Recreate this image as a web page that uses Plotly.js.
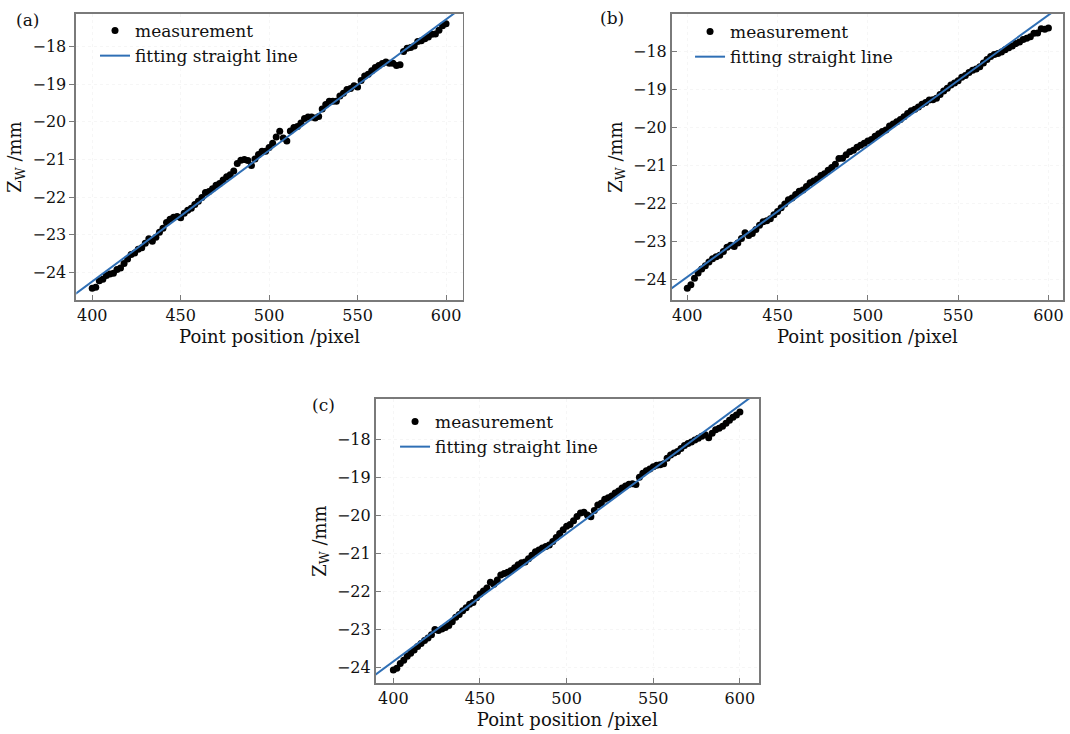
<!DOCTYPE html>
<html><head><meta charset="utf-8">
<script src="https://cdn.plot.ly/plotly-3.0.1.min.js"></script>
<style>html,body{margin:0;padding:0;background:#fff}#chart{width:1070px;height:734px}</style>
</head><body><div id="chart"></div>
<script>
const pointPos = [400,402,404,406,408,410,412,414,416,418,420,422,424,426,428,430,432,434,436,438,440,442,444,446,448,450,452,454,456,458,460,462,464,466,468,470,472,474,476,478,480,482,484,486,488,490,492,494,496,498,500,502,504,506,508,510,512,514,516,518,520,522,524,526,528,530,532,534,536,538,540,542,544,546,548,550,552,554,556,558,560,562,564,566,568,570,572,574,576,578,580,582,584,586,588,590,592,594,596,598,600];

const zA = [-24.43,-24.40,-24.23,-24.19,-24.09,-24.05,-24.03,-23.93,-23.89,-23.77,-23.65,-23.53,-23.49,-23.39,-23.35,-23.23,-23.11,-23.18,-23.07,-22.94,-22.83,-22.68,-22.59,-22.54,-22.52,-22.55,-22.43,-22.35,-22.30,-22.20,-22.11,-22.01,-21.88,-21.85,-21.78,-21.69,-21.64,-21.55,-21.46,-21.41,-21.31,-21.11,-21.02,-21.00,-21.03,-21.16,-20.99,-20.87,-20.78,-20.78,-20.68,-20.57,-20.40,-20.25,-20.43,-20.51,-20.24,-20.15,-20.12,-20.03,-19.91,-19.87,-19.87,-19.90,-19.86,-19.66,-19.54,-19.45,-19.45,-19.45,-19.31,-19.24,-19.14,-19.11,-19.04,-19.07,-18.90,-18.78,-18.73,-18.64,-18.55,-18.50,-18.45,-18.41,-18.44,-18.44,-18.50,-18.48,-18.13,-18.04,-18.02,-17.98,-17.86,-17.84,-17.79,-17.74,-17.67,-17.66,-17.56,-17.44,-17.39];

const zB = [-24.24,-24.15,-23.98,-23.84,-23.73,-23.65,-23.55,-23.46,-23.41,-23.37,-23.27,-23.16,-23.11,-23.14,-23.05,-22.93,-22.78,-22.85,-22.80,-22.69,-22.58,-22.49,-22.46,-22.41,-22.30,-22.22,-22.12,-22.02,-21.91,-21.86,-21.77,-21.68,-21.65,-21.56,-21.46,-21.41,-21.36,-21.27,-21.22,-21.13,-21.06,-20.97,-20.82,-20.81,-20.72,-20.64,-20.60,-20.52,-20.47,-20.42,-20.36,-20.32,-20.23,-20.17,-20.11,-20.07,-19.96,-19.91,-19.85,-19.79,-19.72,-19.63,-19.56,-19.52,-19.46,-19.39,-19.34,-19.28,-19.27,-19.23,-19.13,-19.04,-18.97,-18.88,-18.83,-18.77,-18.68,-18.63,-18.55,-18.49,-18.46,-18.40,-18.30,-18.21,-18.13,-18.08,-18.05,-18.01,-17.95,-17.90,-17.85,-17.79,-17.75,-17.68,-17.65,-17.61,-17.52,-17.51,-17.40,-17.41,-17.38];

const zC = [-24.07,-24.02,-23.90,-23.81,-23.71,-23.63,-23.54,-23.45,-23.37,-23.29,-23.23,-23.14,-23.00,-23.03,-22.99,-22.95,-22.90,-22.80,-22.68,-22.61,-22.51,-22.43,-22.34,-22.29,-22.17,-22.07,-21.99,-21.91,-21.76,-21.81,-21.70,-21.57,-21.53,-21.50,-21.45,-21.38,-21.30,-21.25,-21.23,-21.14,-21.05,-20.96,-20.91,-20.86,-20.82,-20.78,-20.69,-20.58,-20.48,-20.38,-20.29,-20.24,-20.14,-20.03,-19.94,-19.92,-19.99,-20.04,-19.87,-19.73,-19.68,-19.58,-19.54,-19.49,-19.41,-19.36,-19.28,-19.23,-19.18,-19.17,-19.19,-19.00,-18.89,-18.83,-18.78,-18.72,-18.68,-18.67,-18.64,-18.50,-18.41,-18.36,-18.32,-18.24,-18.16,-18.11,-18.07,-18.02,-17.97,-17.92,-17.88,-17.96,-17.84,-17.75,-17.71,-17.66,-17.58,-17.50,-17.42,-17.36,-17.28];

const fitX = [385, 615];
const fitA = [-24.77, -16.75];
const fitB = [-24.46, -16.52];
const fitC = [-24.35, -16.60];

const panelLabels = ['(a)', '(b)', '(c)'];
const seriesNames = ['measurement', 'fitting straight line'];
const xTicks = [400, 450, 500, 550, 600];
const yTicks = [-24, -23, -22, -21, -20, -19, -18];
const xTitle = 'Point position /pixel';
const yTitle = 'Z<sub>W</sub> /mm';

const F = 'DejaVu Serif, Liberation Serif, serif';
const INK = '#111111';
const BORDER = '#7a7a7a';
const BLUE = '#2f6fb5';

function xAxis(domain, range, anchor) {
  return {
    domain: domain, range: range, anchor: anchor,
    tickmode: 'array', tickvals: xTicks,
    ticks: 'inside', ticklen: 5, tickcolor: BORDER, tickwidth: 1,
    showline: true, mirror: true, linecolor: BORDER, linewidth: 1.8,
    showgrid: true, gridcolor: '#f6f6f6', griddash: 'dot', gridwidth: 1,
    zeroline: false, fixedrange: true,
    tickfont: {family: F, size: 16, color: INK},
    title: {text: xTitle, font: {family: F, size: 18, color: INK}, standoff: 6}
  };
}
function yAxis(domain, range, anchor, tickdir) {
  return {
    domain: domain, range: range, anchor: anchor,
    tickmode: 'array', tickvals: yTicks,
    ticks: tickdir, ticklen: 5, tickcolor: BORDER, tickwidth: 1,
    showline: true, mirror: true, linecolor: BORDER, linewidth: 1.8,
    showgrid: true, gridcolor: '#f6f6f6', griddash: 'dot', gridwidth: 1,
    zeroline: false, fixedrange: true,
    tickfont: {family: F, size: 16, color: INK},
    title: {text: yTitle, font: {family: F, size: 18, color: INK}, standoff: 6}
  };
}

function pair(zs, fit, xa, ya, leg) {
  return [
    {x: pointPos, y: zs, xaxis: xa, yaxis: ya, type: 'scatter', mode: 'markers',
     name: seriesNames[0], legend: leg,
     marker: {color: '#000', size: 7}},
    {x: fitX, y: fit, xaxis: xa, yaxis: ya, type: 'scatter', mode: 'lines',
     name: seriesNames[1], legend: leg,
     line: {color: BLUE, width: 2}}
  ];
}

const data = [].concat(
  pair(zA, fitA, 'x', 'y', 'legend'),
  pair(zB, fitB, 'x2', 'y2', 'legend2'),
  pair(zC, fitC, 'x3', 'y3', 'legend3')
);

function leg(x, y) {
  return {x: x, y: y, xanchor: 'left', yanchor: 'top', bgcolor: 'rgba(0,0,0,0)',
          borderwidth: 0, font: {family: F, size: 17, color: INK}, tracegroupgap: 0,
          itemsizing: 'trace'};
}

const layout = {
  width: 1070, height: 734,
  margin: {l: 0, r: 0, t: 0, b: 0},
  paper_bgcolor: '#fff', plot_bgcolor: '#fff',
  showlegend: true,
  xaxis: xAxis([0.0713, 0.4324], [391, 609.4], 'y'),
  yaxis: yAxis([0.5913, 0.9809], [-24.74, -17.13], 'x', 'outside'),
  xaxis2: xAxis([0.6278, 0.9935], [391.4, 608.1], 'y2'),
  yaxis2: yAxis([0.5913, 0.9809], [-24.55, -17.01], 'x2', 'inside'),
  xaxis3: xAxis([0.3511, 0.7093], [389.8, 611], 'y3'),
  yaxis3: yAxis([0.0695, 0.4564], [-24.41, -16.94], 'x3', 'inside'),
  legend: leg(0.0888, 0.9823),
  legend2: leg(0.6449, 0.9809),
  legend3: leg(0.3692, 0.4496),
  annotations: [
    {text: panelLabels[0], xref: 'paper', yref: 'paper', x: 0.0131, y: 0.9728, xanchor: 'left', yanchor: 'middle', showarrow: false, font: {family: F, size: 17, color: INK}},
    {text: panelLabels[1], xref: 'paper', yref: 'paper', x: 0.5589, y: 0.9755, xanchor: 'left', yanchor: 'middle', showarrow: false, font: {family: F, size: 17, color: INK}},
    {text: panelLabels[2], xref: 'paper', yref: 'paper', x: 0.2897, y: 0.4482, xanchor: 'left', yanchor: 'middle', showarrow: false, font: {family: F, size: 17, color: INK}}
  ]
};

Plotly.newPlot('chart', data, layout, {staticPlot: true, displayModeBar: false});
</script>
</body></html>
